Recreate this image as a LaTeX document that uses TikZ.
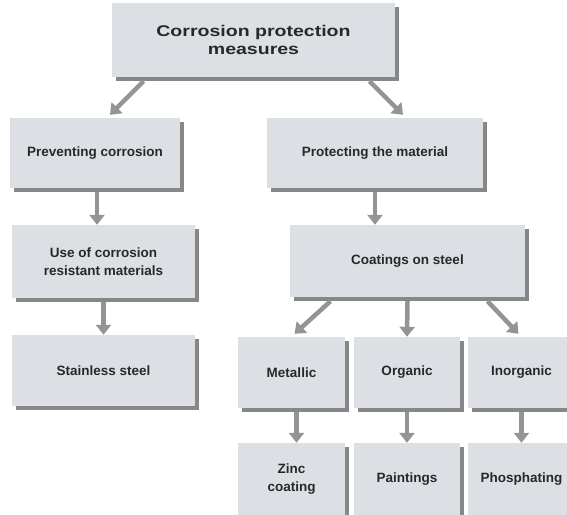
\documentclass[tikz,border=0pt]{standalone}
\usepackage{fontspec}
\setmainfont{Liberation Sans}
\newfontfamily\titlefont[FakeStretch=1.26]{Liberation Sans Bold}
\usetikzlibrary{arrows.meta,shadows}
\definecolor{boxfill}{RGB}{220,224,229}
\definecolor{shadowgray}{RGB}{135,135,135}
\definecolor{arrowgray}{RGB}{148,148,148}
\definecolor{txt}{RGB}{40,40,40}
\tikzset{
  box/.style={rectangle, fill=boxfill, inner sep=0pt, align=center,
    font=\bfseries\fontsize{13.5}{18}\selectfont, text=txt,
    drop shadow={shadow xshift=3.5pt, shadow yshift=-3.5pt, fill=shadowgray, opacity=1}},
  arr/.style={draw=arrowgray, line width=4.5pt,
    -{Triangle[width=15pt,length=10pt]}}
}
\begin{document}
\begin{tikzpicture}[x=1pt,y=-1pt]
\useasboundingbox (0,0) rectangle (567,514);
% nodes
\node[box, minimum width=283pt, minimum height=74pt, font=\titlefont\fontsize{15.5}{18.5}\selectfont] (top) at (253.5,40) {Corrosion protection\\measures};
\node[box, minimum width=170pt, minimum height=70pt] (prev) at (95,153) {Preventing corrosion};
\node[box, minimum width=216pt, minimum height=70pt] (prot) at (375,153) {Protecting the material};
\node[box, minimum width=183pt, minimum height=73pt] (use) at (103.5,261.5) {Use of corrosion\\resistant materials};
\node[box, minimum width=183pt, minimum height=71pt] (stain) at (103.5,370.5) {Stainless steel};
\node[box, minimum width=235pt, minimum height=72pt] (coat) at (407.5,261) {Coatings on steel};
\node[box, minimum width=107pt, minimum height=71pt] (metal) at (291.5,372.5) {Metallic};
\node[box, minimum width=106pt, minimum height=71pt] (org) at (407,372.5) {Organic};
\node[box, minimum width=107pt, minimum height=71pt] (inorg) at (521.5,372.5) {Inorganic};
\node[box, minimum width=107pt, minimum height=73pt] (zinc) at (291.5,479.5) {Zinc\\coating};
\node[box, minimum width=106pt, minimum height=73pt] (paint) at (407,479.5) {Paintings};
\node[box, minimum width=107pt, minimum height=73pt] (phos) at (521.5,479.5) {Phosphating};
% connectors
\coordinate (t1) at ([xshift=-110pt,yshift=-4pt]top.south);
\coordinate (t2) at ([xshift=116pt,yshift=-4pt]top.south);
\coordinate (p1) at ([xshift=2pt,yshift=-4pt]prev.south);
\draw[arr] (t1) -- ([xshift=15pt,yshift=3pt]prev.north);
\draw[arr] (t2) -- ([xshift=28pt,yshift=3pt]prot.north);
\draw[arr] (p1) -- (use.north -| p1);
\draw[arr] ([yshift=-4pt]prot.south) -- (coat.north -| prot.south);
\draw[arr] ([yshift=-4pt]use.south) -- (stain.north);
\draw[arr] ([xshift=-77pt,yshift=-4pt]coat.south) -- ([xshift=3pt,yshift=3pt]metal.north);
\draw[arr] ([yshift=-4pt]coat.south) -- (org.north);
\draw[arr] ([xshift=80pt,yshift=-4pt]coat.south) -- ([xshift=-3pt,yshift=3pt]inorg.north);
\draw[arr] ([xshift=5pt,yshift=-4pt]metal.south) -- ([xshift=5pt]zinc.north);
\draw[arr] ([yshift=-4pt]org.south) -- (paint.north);
\draw[arr] ([yshift=-4pt]inorg.south) -- (phos.north);
\end{tikzpicture}
\end{document}
